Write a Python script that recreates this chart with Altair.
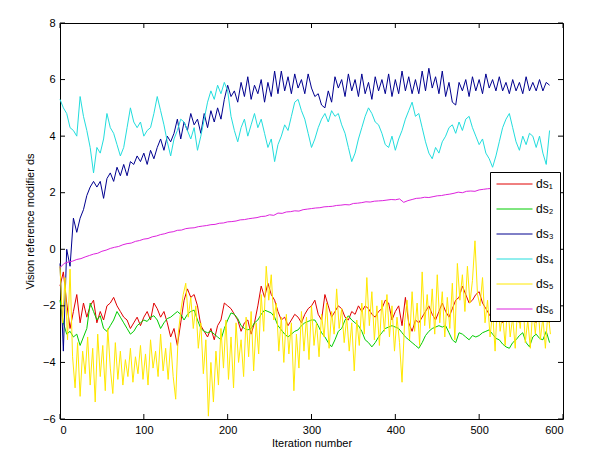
import altair as alt
import pandas as pd

# ---------------- data ----------------
x_ticks = [0, 100, 200, 300, 400, 500, 600]
y_ticks = [-6, -4, -2, 0, 2, 4, 6, 8]
names = ["ds₁", "ds₂", "ds₃", "ds₄", "ds₅", "ds₆"]
colors = ["#E00000", "#00CC00", "#00008F", "#22DDDD", "#FFE800", "#DD22DD"]
steps = [4, 4, 4, 4, 3, 5]   # iteration spacing of the sampled values

ds1 = [-1.3, -0.8, -1.9, -2.8, -2.2, -1.6, -2.6, -1.9, -2.4, -2.0,
       -1.8, -2.6, -2.2, -2.5, -2.0, -1.9, -1.7, -2.0, -2.2, -2.4,
       -2.5, -2.8, -2.6, -2.4, -2.7, -2.4, -2.2, -2.5, -1.9, -2.1,
       -2.4, -2.2, -2.6, -3.1, -2.8, -3.4, -2.6, -1.8, -1.4, -1.7,
       -1.6, -2.0, -2.7, -2.9, -3.1, -2.8, -3.2, -2.7, -2.5, -1.9,
       -2.0, -2.1, -2.3, -2.5, -2.9, -2.6, -2.5, -3.0, -2.6, -2.0,
       -1.3, -1.7, -1.2, -1.6, -1.8, -2.2, -2.5, -2.4, -2.7, -2.5,
       -2.3, -2.4, -2.6, -2.3, -2.1, -2.0, -1.8, -2.3, -2.5, -1.6,
       -2.0, -2.4, -2.2, -2.0, -2.1, -2.4, -2.5, -2.2, -2.3, -2.0,
       -2.2, -2.0, -2.1, -2.3, -2.4, -2.2, -2.1, -1.8, -1.9, -2.5,
       -2.2, -2.0, -2.7, -1.7, -2.6, -2.9, -2.5, -2.6, -2.4, -2.2,
       -2.0, -2.3, -2.5, -2.2, -1.9, -2.2, -2.4, -2.1, -1.8, -1.7,
       -1.3, -1.6, -1.9, -1.8, -1.6, -1.5, -1.9, -2.1, -2.3, -2.5,
       -2.2, -2.4, -2.6, -2.3, -2.5, -2.2, -2.4, -2.6, -2.3, -2.5,
       -2.2, -2.4, -2.6, -2.3, -2.5, -2.4, -2.6]

ds2 = [-1.8, -2.6, -3.0, -2.9, -3.1, -3.0, -3.4, -3.1, -2.8, -1.9,
       -2.2, -2.5, -2.35, -2.8, -2.9, -2.7, -2.5, -2.2, -2.4, -2.6,
       -2.8, -3.0, -2.9, -2.7, -2.6, -2.5, -2.55, -2.4, -2.35, -2.5,
       -2.8, -2.6, -2.45, -2.4, -2.3, -2.2, -2.3, -2.5, -2.3, -2.2,
       -2.15, -2.5, -2.8, -2.9, -2.95, -2.9, -3.0, -3.1, -3.2, -2.8,
       -2.5, -2.25, -2.3, -2.45, -2.7, -2.8, -2.85, -2.8, -2.6, -2.5,
       -2.3, -2.15, -2.2, -2.25, -2.4, -2.7, -2.85, -3.0, -3.1, -3.0,
       -2.9, -2.85, -2.7, -2.6, -2.55, -2.5, -2.5, -2.7, -2.95, -3.1,
       -3.3, -3.45, -3.2, -2.9, -2.8, -2.5, -2.35, -2.5, -2.6, -2.7,
       -2.9, -3.2, -3.3, -3.45, -3.3, -3.1, -2.95, -2.8, -2.75, -2.7,
       -2.75, -2.8, -2.95, -3.1, -3.2, -3.3, -3.4, -3.5, -3.3, -3.05,
       -2.9, -2.8, -2.75, -2.7, -2.75, -2.7, -2.95, -3.2, -3.3, -2.95,
       -3.0, -3.1, -3.2, -3.05, -3.1, -3.05, -2.95, -2.9, -2.85, -3.0,
       -3.15, -3.2, -3.35, -3.45, -3.5, -3.3, -3.2, -3.05, -2.95, -3.3,
       -3.45, -3.1, -3.0, -3.15, -3.2, -2.9, -3.3]

ds3 = [-0.5, -3.6, 0.0, -0.6, 1.1, 0.6, 1.1, 1.4, 1.9, 2.2,
       2.4, 2.2, 2.4, 1.8, 2.5, 2.7, 2.4, 2.9, 2.6, 3.0,
       2.6, 3.1, 3.0, 3.3, 3.1, 3.4, 3.0, 3.5, 3.2, 3.6,
       3.9, 3.5, 4.0, 3.8, 4.1, 4.6, 3.9, 4.5, 4.2, 4.8,
       4.4, 4.6, 4.1, 4.8, 4.3, 4.9, 4.5, 5.0, 4.6, 5.3,
       5.8, 5.4, 5.6, 5.2, 5.9, 5.4, 6.1, 5.3, 5.8, 5.5,
       6.0, 5.2, 5.9, 5.4, 6.3, 5.5, 6.3, 5.6, 6.1, 5.5,
       6.2, 5.7, 6.0, 5.5, 6.2, 5.7, 5.4, 5.5, 5.1, 5.0,
       5.6, 5.2, 6.1, 5.7, 6.0, 5.4, 6.2, 5.6, 6.0, 5.4,
       6.2, 5.5, 5.9, 5.3, 6.1, 5.6, 6.0, 5.5, 6.2, 5.4,
       6.0, 5.5, 6.3, 5.6, 6.1, 5.5, 6.0, 5.5, 6.3, 5.6,
       6.4, 5.7, 6.1, 5.5, 6.3, 5.4, 5.9, 5.2, 5.1, 5.9,
       5.6, 6.0, 5.4, 6.1, 5.6, 6.0, 5.5, 6.2, 5.7, 6.0,
       5.6, 6.1, 5.6, 5.9, 5.5, 6.0, 5.6, 5.9, 5.5, 6.1,
       5.6, 5.9, 5.6, 6.0, 5.6, 5.9, 5.8]

ds4 = [5.3, 5.0, 4.8, 4.3, 4.2, 4.0, 5.4, 4.7, 4.2, 3.6,
       2.7, 3.6, 3.4, 3.9, 4.8, 4.3, 4.1, 3.7, 3.3, 3.6,
       4.3, 5.0, 4.5, 4.3, 4.5, 4.0, 4.2, 4.3, 4.8, 5.4,
       4.9, 4.4, 3.8, 3.3, 3.9, 4.2, 4.6, 4.5, 4.2, 3.9,
       4.3, 3.5, 4.0, 4.6, 5.2, 5.6, 5.3, 5.8, 5.5, 5.9,
       5.6, 4.7, 4.2, 3.8, 4.3, 4.6, 4.0, 4.4, 4.8, 4.3,
       4.6, 4.1, 3.6, 3.9, 3.1, 3.7, 4.0, 4.4, 4.2, 4.7,
       5.2, 5.3, 4.9, 4.6, 4.1, 3.6, 3.9, 4.3, 4.6, 4.8,
       4.5, 4.9, 4.7, 4.8, 4.4, 4.1, 3.6, 3.1, 3.4, 3.9,
       4.3, 4.7, 5.0, 4.8, 4.5, 4.4, 4.1, 3.7, 3.6, 4.0,
       3.5, 3.9, 4.2, 4.6, 4.9, 5.2, 4.7, 4.8, 4.3, 3.8,
       3.4, 3.2, 3.6, 3.4, 3.8, 4.0, 4.3, 4.4, 4.1, 4.5,
       4.2, 4.6, 4.7, 4.3, 4.0, 3.7, 3.9, 3.4, 3.2, 2.9,
       3.3, 3.8, 4.3, 4.6, 4.8, 4.3, 3.8, 3.5, 4.0, 3.7,
       4.1, 4.0, 3.6, 4.0, 3.4, 3.0, 4.2]

ds5 = [-0.6, -2.6, -1.0, -3.2, -0.7, -3.8, -4.9, -3.3, -5.2, -3.6,
       -4.4, -3.1, -4.8, -3.5, -5.4, -3.0, -4.5, -3.4, -5.0, -2.8,
       -4.2, -5.1, -3.3, -4.6, -3.6, -4.8, -3.9, -4.5, -3.5, -4.7,
       -3.8, -4.4, -3.4, -4.6, -3.7, -4.8, -3.2, -4.2, -3.6, -4.5,
       -3.0, -4.3, -3.5, -4.6, -3.3, -4.5, -5.3, -3.0, -2.2, -1.6,
       -1.2, -2.4, -1.7, -2.8, -2.0, -3.5, -2.6, -4.4, -3.2, -5.9,
       -4.0, -5.4, -3.6, -4.8, -2.8, -4.2, -2.5, -4.6, -3.1, -4.9,
       -2.6, -4.0, -3.2, -4.5, -2.4, -3.8, -2.2, -4.3, -2.6, -3.7,
       -1.6, -2.9, -0.6, -1.8, -0.9, -2.5, -1.9, -3.6, -2.4, -4.0,
       -2.3, -3.7, -2.6, -5.0, -3.0, -4.2, -2.2, -3.6, -2.4, -3.9,
       -2.0, -3.4, -2.6, -3.8, -2.3, -3.1, -1.9, -3.5, -2.2, -3.0,
       -1.4, -2.8, -2.1, -3.3, -2.4, -3.6, -2.6, -4.3, -2.5, -3.4,
       -1.9, -3.0, -1.0, -2.7, -1.5, -3.2, -2.0, -3.4, -1.8, -2.9,
       -1.6, -3.1, -2.0, -3.6, -2.4, -3.3, -4.7, -2.6, -1.8, -3.2,
       -1.5, -2.9, -1.9, -3.4, -0.8, -2.7, -1.6, -2.8, -1.4, -3.0,
       -0.9, -2.6, -1.5, -3.1, -1.7, -2.8, -1.2, -3.2, -0.5, -1.8,
       -0.9, -2.2, -0.6, -1.9, -1.1, 0.3, -1.6, -2.0, -1.0, -2.6,
       -1.8, -3.1, -2.2, -3.6, -1.7, -2.9, -2.3, -3.4, -1.9, -3.1,
       -2.4, -3.5, -2.0, -2.8, -1.6, -3.3, -2.5, -3.5, -2.1, -3.0,
       -1.9, -3.2, -2.4, -3.5, -2.2, -3.0]

ds6 = [-0.65, -0.50, -0.45, -0.42, -0.36, -0.33, -0.27, -0.22, -0.17, -0.14,
       -0.07, -0.03, 0.03, 0.07, 0.10, 0.16, 0.20, 0.22, 0.28, 0.31,
       0.36, 0.38, 0.44, 0.47, 0.52, 0.55, 0.60, 0.62, 0.67, 0.68,
       0.73, 0.75, 0.76, 0.80, 0.82, 0.84, 0.87, 0.88, 0.92, 0.93,
       0.97, 0.98, 1.00, 1.04, 1.05, 1.08, 1.10, 1.12, 1.16, 1.17,
       1.22, 1.20, 1.28, 1.27, 1.32, 1.33, 1.36, 1.35, 1.40, 1.42,
       1.44, 1.46, 1.47, 1.50, 1.51, 1.52, 1.55, 1.56, 1.58, 1.57,
       1.62, 1.63, 1.65, 1.68, 1.67, 1.70, 1.71, 1.72, 1.74, 1.76,
       1.75, 1.78, 1.66, 1.72, 1.76, 1.80, 1.81, 1.84, 1.83, 1.86,
       1.89, 1.90, 1.93, 1.95, 1.98, 2.02, 2.00, 2.05, 2.06, 2.05,
       2.10, 2.12, 2.14, 2.15, 2.17, 2.18, 2.20, 2.21, 2.22, 2.24,
       2.25, 2.26, 2.27, 2.29, 2.30, 2.30, 2.31, 2.33]

series = [ds1, ds2, ds3, ds4, ds5, ds6]

rows = []
for name, step, vals in zip(names, steps, series):
    for i, v in enumerate(vals):
        rows.append({"it": i * step, "v": v, "s": name})
df = pd.DataFrame(rows)

FONT = "Liberation Sans"
W, H = 503, 396
xscale = alt.Scale(domain=[0, 600], nice=False, zero=False)
yscale = alt.Scale(domain=[-6, 8], nice=False, zero=False)

xaxis = alt.Axis(title="Iteration number", values=x_ticks, ticks=False,
                 domain=False, grid=False, labelPadding=5, titlePadding=2,
                 labelFontSize=11, titleFontSize=11, labelFont=FONT,
                 titleFont=FONT, titleFontWeight="normal",
                 labelColor="black", titleColor="black")
yaxis = alt.Axis(title="Vision reference modifier ds", values=y_ticks,
                 ticks=False, domain=False, grid=False, labelPadding=5,
                 titlePadding=7, labelFontSize=11, titleFontSize=11,
                 labelFont=FONT, titleFont=FONT, titleFontWeight="normal",
                 labelColor="black", titleColor="black")

lines = alt.Chart(df).mark_line(strokeWidth=1, interpolate="linear").encode(
    x=alt.X("it:Q", scale=xscale, axis=xaxis),
    y=alt.Y("v:Q", scale=yscale, axis=yaxis),
    color=alt.Color("s:N", scale=alt.Scale(domain=names, range=colors), title=None,
                    legend=alt.Legend(orient="none", legendX=430, legendY=149,
                                      symbolType="stroke", symbolSize=1296,
                                      symbolStrokeWidth=1, clipHeight=12,
                                      rowPadding=13, padding=6, labelOffset=3,
                                      labelFontSize=12, labelFont=FONT,
                                      labelColor="black", fillColor="white",
                                      strokeColor="black")),
    order=alt.Order("it:Q"),
)

xt = pd.DataFrame({"it": x_ticks})
yt = pd.DataFrame({"v": y_ticks})
xb = alt.Chart(xt).mark_rule(color="black", strokeWidth=1).encode(
    x=alt.X("it:Q", scale=xscale, axis=xaxis), y=alt.value(H), y2=alt.value(H - 5))
xtop = alt.Chart(xt).mark_rule(color="black", strokeWidth=1).encode(
    x=alt.X("it:Q", scale=xscale, axis=xaxis), y=alt.value(0), y2=alt.value(5))
yl = alt.Chart(yt).mark_rule(color="black", strokeWidth=1).encode(
    y=alt.Y("v:Q", scale=yscale, axis=yaxis), x=alt.value(0), x2=alt.value(5))
yr = alt.Chart(yt).mark_rule(color="black", strokeWidth=1).encode(
    y=alt.Y("v:Q", scale=yscale, axis=yaxis), x=alt.value(W), x2=alt.value(W - 5))

chart = alt.layer(lines, xb, xtop, yl, yr).properties(
    width=W, height=H,
    autosize=alt.AutoSizeParams(type="none"),
    padding={"left": 60, "top": 23, "right": 39, "bottom": 40},
    background="white",
).configure_view(stroke="black", strokeWidth=1)

chart.save("out.html", embed_options={"renderer": "svg", "actions": False})
